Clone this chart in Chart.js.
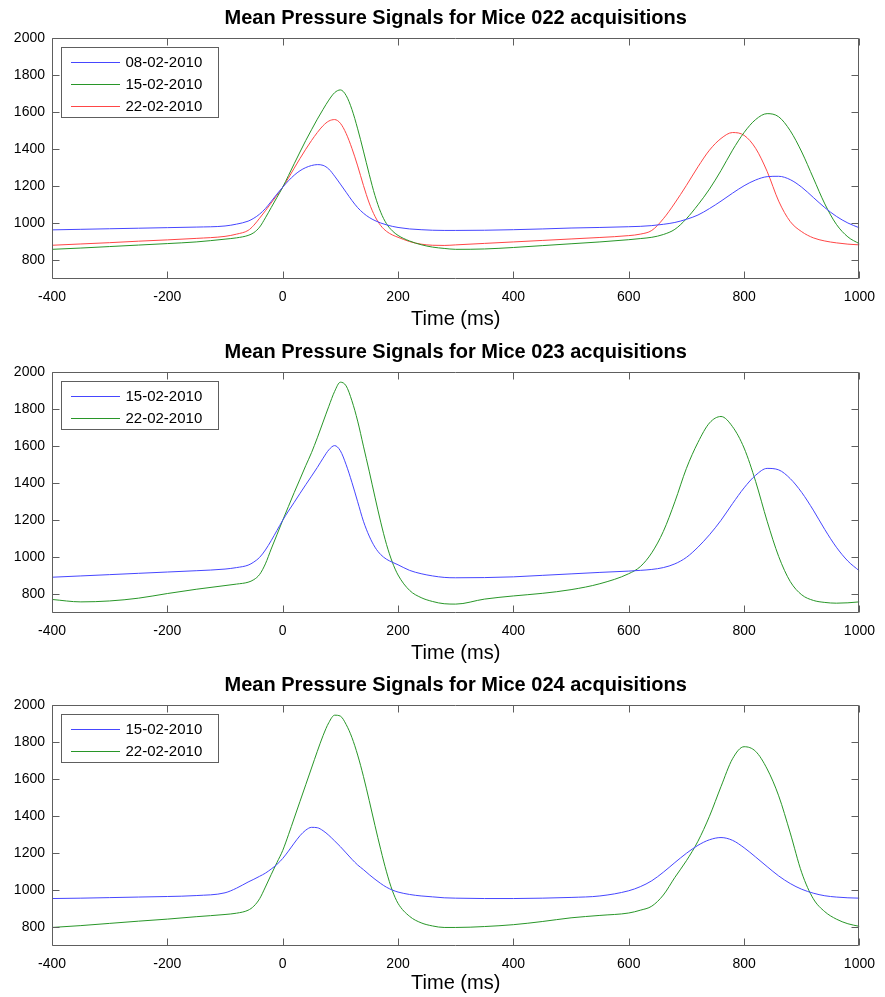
<!DOCTYPE html>
<html><head><meta charset="utf-8">
<script src="https://cdn.jsdelivr.net/npm/chart.js@4/dist/chart.umd.min.js"></script>
<style>
html,body{margin:0;padding:0;background:#fff;}
#wrap{position:relative;width:885px;height:997px;overflow:hidden;background:#fff;}
.pane{position:absolute;left:0;width:885px;}
</style></head><body>
<div id="wrap">
<div class="pane" style="top:0px;height:333px"><canvas id="c1" width="885" height="333"></canvas></div>
<div class="pane" style="top:334px;height:333px"><canvas id="c2" width="885" height="333"></canvas></div>
<div class="pane" style="top:667px;height:330px"><canvas id="c3" width="885" height="330"></canvas></div>
</div>
<script>
// ---- data ----
const timeMs = [-400,-350,-300,-250,-200,-150,-100,-80,-60,-50,-40,-30,-20,-10,0,10,20,30,40,50,60,70,80,90,100,110,120,130,140,150,160,170,180,190,200,220,240,260,280,300,350,400,450,500,550,600,620,640,660,680,700,720,740,760,780,800,820,840,860,880,900,920,940,960,980,1000];

const xTicks = [-400,-200,0,200,400,600,800,1000];
const yTicks = [800,1000,1200,1400,1600,1800,2000];

const titles = [
  'Mean Pressure Signals for Mice 022 acquisitions',
  'Mean Pressure Signals for Mice 023 acquisitions',
  'Mean Pressure Signals for Mice 024 acquisitions'
];
const xTitle = 'Time (ms)';

const labels022 = ['08-02-2010','15-02-2010','22-02-2010'];
const labels023 = ['15-02-2010','22-02-2010'];
const labels024 = ['15-02-2010','22-02-2010'];

const mice022_0802 = [965,968,971,974,977,980,986,996,1012,1028,1050,1080,1118,1158,1195,1230,1260,1284,1301,1312,1317,1313,1293,1255,1212,1168,1124,1085,1055,1032,1015,1002,992,984,978,970,966,963,962,962,963,966,970,975,978,982,984,988,995,1005,1022,1045,1080,1120,1163,1203,1234,1252,1254,1236,1195,1140,1085,1038,1002,976];
const mice022_1502 = [860,867,875,883,891,900,915,922,935,950,980,1030,1085,1140,1195,1258,1322,1385,1447,1505,1562,1615,1665,1705,1720,1690,1615,1510,1390,1265,1150,1060,998,960,935,905,885,872,865,860,862,870,880,890,900,912,918,925,940,968,1025,1100,1185,1285,1395,1490,1560,1592,1575,1500,1385,1245,1105,995,927,890];
const mice022_2202 = [882,889,896,904,911,919,930,942,962,990,1028,1068,1110,1152,1195,1245,1298,1350,1400,1447,1490,1527,1552,1560,1540,1485,1405,1310,1205,1110,1038,988,957,938,925,902,888,882,881,884,892,900,908,916,924,934,942,962,1025,1110,1205,1305,1395,1458,1490,1475,1405,1280,1120,1010,955,922,905,895,888,884];

const mice023_1502 = [893,900,907,914,921,928,937,945,958,975,1000,1040,1090,1145,1200,1250,1297,1345,1392,1438,1485,1535,1580,1603,1575,1500,1405,1300,1195,1115,1055,1015,990,974,960,930,912,900,892,890,891,895,903,911,919,926,930,935,945,965,1000,1055,1122,1200,1290,1375,1443,1480,1472,1425,1350,1255,1150,1055,980,927];
const mice023_2202 = [773,760,765,780,805,828,848,856,866,880,908,965,1045,1122,1200,1275,1350,1422,1495,1565,1645,1730,1815,1895,1945,1925,1845,1735,1600,1465,1325,1190,1070,975,905,822,783,762,750,748,775,792,806,826,858,912,950,1025,1140,1300,1480,1620,1725,1760,1705,1590,1410,1195,1005,870,798,768,757,753,755,760];

const mice024_1502 = [956,958,961,964,967,972,987,1012,1045,1060,1076,1093,1115,1140,1172,1212,1255,1295,1325,1340,1338,1322,1297,1267,1236,1202,1168,1137,1112,1085,1060,1037,1017,1002,991,978,970,965,960,958,956,956,958,962,970,998,1020,1052,1098,1150,1200,1243,1273,1285,1270,1230,1180,1128,1078,1037,1006,985,971,964,960,958];
const mice024_2202 = [800,810,822,834,845,858,870,877,893,915,955,1018,1085,1150,1215,1300,1390,1480,1570,1660,1750,1835,1905,1945,1940,1895,1825,1730,1615,1485,1350,1220,1100,1000,930,860,825,808,800,800,805,815,832,852,865,878,893,915,975,1070,1160,1265,1400,1560,1710,1775,1750,1655,1510,1310,1095,955,885,845,820,806];

// ---- styling ----
const BLUE = 'rgb(70,70,255)';
const GREEN = 'rgb(40,150,40)';
const RED = 'rgb(255,70,70)';
const FONT = "'Liberation Sans', Arial, Helvetica, sans-serif";

Chart.defaults.color = '#000';
Chart.defaults.font.family = FONT;

const toXY = arr => arr.map((v,i)=>({x: timeMs[i], y: v}));

function makeBoxPlugin(labels, colors){
  return {
    id: 'matlabBox',
    afterDatasetsDraw(chart){
      const {ctx, chartArea:a, scales:{x, y}} = chart;
      ctx.save();
      const L = Math.round(a.left)+0.5, R = Math.round(a.right)-0.5;
      const T = Math.round(a.top)+0.5, B = Math.round(a.bottom)-0.5;
      ctx.strokeStyle = '#5e5e5e';
      ctx.lineWidth = 1;
      ctx.beginPath();
      ctx.rect(L, T, R-L, B-T);
      const tl = 7;
      x.ticks.forEach(t=>{
        const p = Math.round(x.getPixelForValue(t.value))+0.5;
        ctx.moveTo(p, B); ctx.lineTo(p, B-tl);
        ctx.moveTo(p, T); ctx.lineTo(p, T+tl);
      });
      y.ticks.forEach(t=>{
        const p = Math.round(y.getPixelForValue(t.value))+0.5;
        ctx.moveTo(L, p); ctx.lineTo(L+tl, p);
        ctx.moveTo(R, p); ctx.lineTo(R-tl, p);
      });
      ctx.stroke();

      // legend box inside the axes (upper left)
      const lx = Math.round(a.left + 9) + 0.5;
      const ly = Math.round(a.top + 9) + 0.5;
      const lw = 157;
      const lh = 22*labels.length + 4;
      ctx.fillStyle = '#fff';
      ctx.fillRect(lx, ly, lw, lh);
      ctx.strokeStyle = '#5e5e5e';
      ctx.strokeRect(lx, ly, lw, lh);
      ctx.font = '15px ' + FONT;
      ctx.textBaseline = 'middle';
      ctx.textAlign = 'left';
      labels.forEach((lab,i)=>{
        const cy = Math.round(ly + 14 + 22*i);
        ctx.fillStyle = colors[i];
        ctx.fillRect(Math.round(lx+9), cy, 49, 1);
        ctx.fillStyle = '#000';
        ctx.fillText(lab, lx+64, cy+0.5);
      });
      ctx.restore();
    }
  };
}

function makeChart(id, title, labels, series, colors, xAxisHeight){
  const datasets = series.map((s,i)=>({
    label: labels[i],
    data: toXY(s),
    borderColor: colors[i],
    backgroundColor: colors[i],
    borderWidth: 1,
    pointRadius: 0,
    fill: false,
    cubicInterpolationMode: 'monotone'
  }));
  return new Chart(document.getElementById(id), {
    type: 'line',
    data: { datasets },
    options: {
      responsive: false,
      animation: false,
      devicePixelRatio: 1,
      layout: { padding: { left: 0, right: 19, top: 0, bottom: 0 } },
      plugins: {
        legend: { display: false },
        tooltip: { enabled: false },
        title: {
          display: true, text: title, fullSize: false, color: '#000',
          font: { family: FONT, size: 20, weight: 'bold', lineHeight: 1.2 },
          padding: { top: 6, bottom: 8 }
        }
      },
      scales: {
        x: {
          type: 'linear', min: -400, max: 1000,
          grid: { display: false, drawTicks: false },
          border: { display: false },
          afterBuildTicks: s => { s.ticks = xTicks.map(v=>({value:v})); },
          afterFit: s => { s.height = xAxisHeight; },
          ticks: { color: '#000', font: { family: FONT, size: 14 }, padding: 10, maxRotation: 0, autoSkip: false, callback: v => String(v) },
          title: { display: true, text: xTitle, color: '#000', font: { family: FONT, size: 20 }, padding: { top: 0, bottom: 2 } }
        },
        y: {
          type: 'linear', min: 700, max: 2000,
          grid: { display: false, drawTicks: false },
          border: { display: false },
          afterBuildTicks: s => { s.ticks = yTicks.map(v=>({value:v})); },
          afterFit: s => { s.width = 52; },
          ticks: { color: '#000', font: { family: FONT, size: 14 }, padding: 7, autoSkip: false, callback: v => String(v) }
        }
      }
    },
    plugins: [makeBoxPlugin(labels, colors)]
  });
}

makeChart('c1', titles[0], labels022, [mice022_0802, mice022_1502, mice022_2202], [BLUE, GREEN, RED], 54);
makeChart('c2', titles[1], labels023, [mice023_1502, mice023_2202], [BLUE, GREEN], 54);
makeChart('c3', titles[2], labels024, [mice024_1502, mice024_2202], [BLUE, GREEN], 51);
</script>
</body></html>
